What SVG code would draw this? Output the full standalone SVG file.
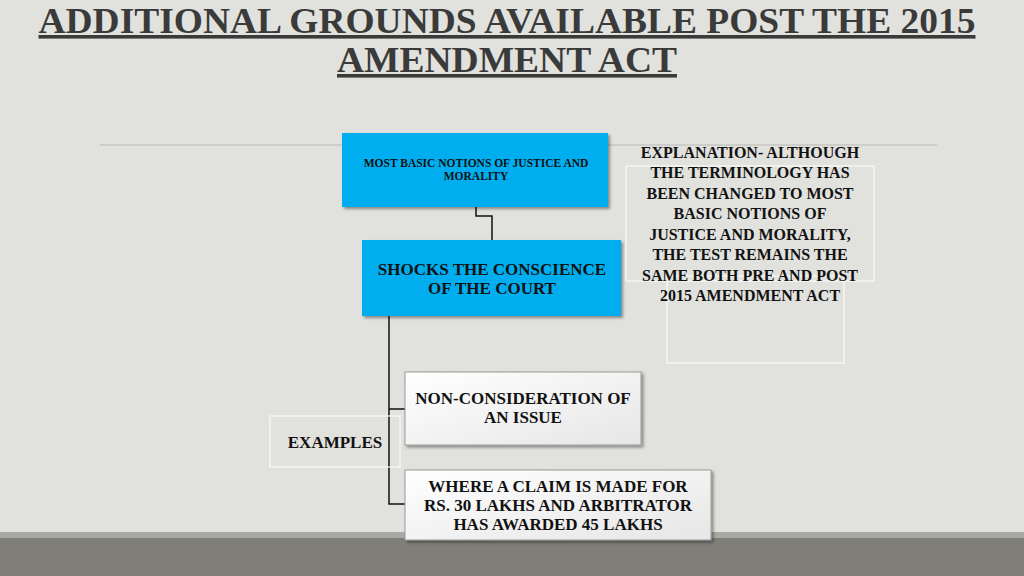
<svg xmlns="http://www.w3.org/2000/svg" width="1024" height="576" viewBox="0 0 1024 576">
<defs>
<linearGradient id="wg" x1="0" y1="0" x2="1" y2="1"><stop offset="0" stop-color="#ffffff"/><stop offset="1" stop-color="#e6e6e6"/></linearGradient>
<filter id="sh" x="-5%" y="-5%" width="115%" height="120%"><feDropShadow dx="2" dy="2" stdDeviation="1.5" flood-color="#000" flood-opacity="0.4"/></filter>
<style>
.t{font-family:"Liberation Serif","Times New Roman",serif;font-weight:bold;fill:#111;text-anchor:middle}
.blue{fill:#00aeef;filter:url(#sh)}
.white{fill:url(#wg);stroke:#999;stroke-width:1;filter:url(#sh)}
.outline{fill:none;stroke:#fafafa;stroke-width:1.2}
.c{fill:none;stroke:#111;stroke-width:1.5}
</style>
</defs>
<rect width="1024" height="576" fill="#e1e1dd"/>
<rect y="532" width="1024" height="6" fill="#a9a9a3"/>
<rect y="538" width="1024" height="38" fill="#7f7f78"/>
<g id="title" font-family="Liberation Serif, serif" font-weight="bold" font-size="36" fill="#3a3a3a" text-anchor="middle" text-decoration="underline">
<text x="507" y="33" textLength="937" lengthAdjust="spacingAndGlyphs">ADDITIONAL GROUNDS AVAILABLE POST THE 2015</text>
<text x="507" y="72" textLength="340" lengthAdjust="spacingAndGlyphs">AMENDMENT ACT</text>
</g>
<line x1="100" y1="145" x2="937" y2="145" stroke="#c6c6c2" stroke-width="1.5"/>
<g id="explanation-frames">
<rect class="outline" x="626" y="166" width="248" height="115"/>
<rect class="outline" x="667" y="276" width="177" height="87"/>
</g>
<g id="connectors">
<path class="c" d="M476 207 V216 H492 V240"/>
<path class="c" d="M389 316 V504 H405 M389 409 H405"/>
</g>
<g id="n1"><rect class="blue" x="342" y="133" width="266" height="74"/>
<text class="t" font-size="11.5" x="476" y="167">MOST BASIC NOTIONS OF JUSTICE AND</text>
<text class="t" font-size="11.5" x="476" y="180">MORALITY</text></g>
<g id="n2"><rect class="blue" x="362" y="240" width="259" height="76"/>
<text class="t" font-size="17" x="492" y="275">SHOCKS THE CONSCIENCE</text>
<text class="t" font-size="17" x="492" y="294">OF THE COURT</text></g>
<g id="n3"><rect class="white" x="405" y="372" width="236" height="73"/>
<text class="t" font-size="17" x="523" y="404">NON-CONSIDERATION OF</text>
<text class="t" font-size="17" x="523" y="423">AN ISSUE</text></g>
<g id="n4"><rect class="white" x="405" y="470" width="306" height="70"/>
<text class="t" font-size="17" x="558" y="492">WHERE A CLAIM IS MADE FOR</text>
<text class="t" font-size="17" x="558" y="511">RS. 30 LAKHS AND ARBITRATOR</text>
<text class="t" font-size="17" x="558" y="530">HAS AWARDED 45 LAKHS</text></g>
<g id="examples"><rect class="outline" x="270" y="416" width="130" height="51"/>
<text class="t" font-size="17" x="335" y="448">EXAMPLES</text></g>
<g id="explanation" class="t" font-size="16">
<text x="750" y="158">EXPLANATION- ALTHOUGH</text>
<text x="750" y="178">THE TERMINOLOGY HAS</text>
<text x="750" y="199">BEEN CHANGED TO MOST</text>
<text x="750" y="219">BASIC NOTIONS OF</text>
<text x="750" y="240">JUSTICE AND MORALITY,</text>
<text x="750" y="260">THE TEST REMAINS THE</text>
<text x="750" y="281">SAME BOTH PRE AND POST</text>
<text x="750" y="301">2015 AMENDMENT ACT</text>
</g>
</svg>
